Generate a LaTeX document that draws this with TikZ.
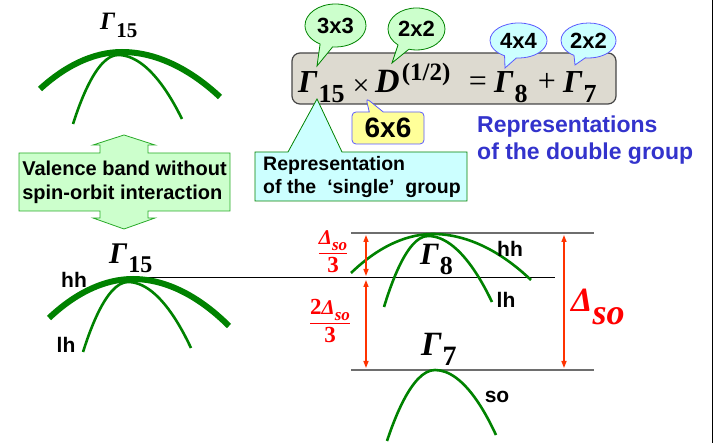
\documentclass[tikz,border=0pt]{standalone}
\usepackage{fontspec}
\setmainfont{Liberation Sans}
\newfontfamily\tmsfont{Liberation Serif}
\usetikzlibrary{arrows.meta,shapes.callouts,shapes.geometric,backgrounds}

\definecolor{bandgreen}{RGB}{0,130,0}
\definecolor{boxgreen}{RGB}{40,170,40}
\definecolor{palegreen}{RGB}{204,255,204}
\definecolor{palecyan}{RGB}{204,255,255}
\definecolor{paleyel}{RGB}{255,255,153}
\definecolor{bubblue}{RGB}{90,90,255}
\definecolor{grpblue}{RGB}{51,51,204}
\definecolor{eqgray}{RGB}{221,218,208}
\definecolor{eqedge}{RGB}{70,70,70}
\definecolor{levelgray}{RGB}{110,110,110}
\definecolor{sored}{RGB}{255,0,0}
\definecolor{arrred}{RGB}{255,51,0}

\newcommand{\fsz}[1]{\fontsize{#1}{#1}\selectfont}
\newcommand{\Gam}[3]{{\tmsfont\bfseries\itshape\fsz{#1}Γ}\kern1pt{\tmsfont\bfseries\fsz{#2}\raisebox{-0.35em}{#3}}}
\newcommand{\Dso}[2]{{\tmsfont\bfseries\itshape\fsz{#1}Δ{\fsz{#2}\raisebox{-0.35em}{so}}}}

\begin{document}
\begin{tikzpicture}[x=1pt, y=-1pt,
    bandthin/.style={draw=bandgreen, line width=2.6pt},
    bandthick/.style={draw=bandgreen, line width=6pt},
    level/.style={draw=levelgray, line width=1.4pt},
    sym/.style={inner sep=0pt, anchor=base west},
    tag/.style={inner sep=0pt, font=\fsz{21}\bfseries},
    gbub/.style={ellipse callout, draw=bandgreen, fill=palegreen, line width=0.8pt, inner sep=0pt, callout pointer arc=25, font=\fsz{22}\bfseries},
    bbub/.style={gbub, draw=bubblue, fill=palecyan},
    redarr/.style={draw=arrred, line width=1.4pt, {Triangle[length=7pt,width=5pt]}-{Triangle[length=7pt,width=5pt]}},
]
\useasboundingbox (0,0) rectangle (715,443);

% slide edge
\draw[line width=1pt] (712,0) -- (712,443);

% without spin-orbit
\node[sym] (g15a) at (100,30) {\Gam{25}{21}{15}};
\draw[bandthick] (40,89) parabola bend (122,52) (220,97);
\draw[bandthin] (73,124) parabola bend (118,55) (182,119);

\draw[fill=palegreen, draw=boxgreen, line width=0.8pt] (124,135) -- (155,145) -- (148,145) -- (148,153) -- (230,153) -- (230,211) -- (148,211) -- (148,218) -- (155,218) -- (124,229) -- (93,218) -- (100,218) -- (100,211) -- (19,211) -- (19,153) -- (100,153) -- (100,145) -- (93,145) -- cycle;
\node[inner sep=0pt, align=left, font=\fsz{20}\bfseries] (valence) at (124.5,182) {Valence band without\\[4pt]spin-orbit interaction};

% the product of representations
\node[sym] (g15eq) at (298,93) {\Gam{32}{26}{15}};
\node[inner sep=0pt, font=\tmsfont\fsz{30}] (times) at (361,87) {×};
\node[sym] (dhalf) at (375,93) {{\tmsfont\bfseries\itshape\fsz{34}D}\kern2pt{\tmsfont\bfseries\fsz{25}\raisebox{0.5em}{(1/2)}}};
\node[inner sep=0pt, font=\tmsfont\fsz{32}] (equal) at (478,84) {=};
\node[sym] (g8eq) at (494,93) {\Gam{32}{26}{8}};
\node[inner sep=0pt, font=\tmsfont\fsz{32}] (plus) at (547,82) {+};
\node[sym] (g7eq) at (563,93) {\Gam{32}{26}{7}};

\begin{scope}[on background layer]
  \node[draw=eqedge, fill=eqgray, line width=1.2pt, rounded corners=8pt, minimum width=324pt, minimum height=51pt, inner sep=0pt] (eqbox) at (454,78.5) {};
  \node[gbub, minimum width=61pt, minimum height=43pt, callout absolute pointer={(317,66)}] (dim3) at (335.5,25.5) {3x3};
  \node[gbub, minimum width=57pt, minimum height=42pt, callout absolute pointer={(392,63)}] (dim2a) at (416.5,29) {2x2};
  \node[bbub, minimum width=57pt, minimum height=35pt, callout absolute pointer={(505,68)}] (dim4) at (518.5,40.5) {4x4};
  \node[bbub, minimum width=55pt, minimum height=35pt, callout absolute pointer={(575,65)}] (dim2b) at (588.5,40.5) {2x2};
  \node[rectangle callout, draw=bubblue, fill=paleyel, line width=0.8pt, rounded corners=4pt, minimum width=72pt, minimum height=32pt, inner sep=0pt, callout pointer width=14pt, callout absolute pointer={(366,98)}, font=\fsz{28}\bfseries] (dim6) at (388,128) {6x6};
  \draw[fill=palecyan, draw=bandgreen, line width=0.8pt] (255,152) -- (288,152) -- (317,99) -- (342,152) -- (467,152) -- (467,201) -- (255,201) -- cycle;
\end{scope}
\node[anchor=west, align=left, font=\fsz{19.5}\bfseries, inner sep=0pt] (single) at (263,177) {Representation\\[3pt]of the\hspace{11pt}‘single’\hspace{11pt}group};
\node[anchor=north west, align=left, text=grpblue, font=\fsz{23}\bfseries, inner sep=0pt] (double) at (477,116) {Representations\\[4pt]of the double group};

% levels
\draw[line width=1pt] (133,278) -- (555,278);
\draw[level] (351,233) -- (594,233);
\draw[level] (351,370) -- (594,370);

% Gamma 15
\node[sym] (g15b) at (109,264) {\Gam{30}{24}{15}};
\draw[bandthick] (49,318) parabola bend (133,279) (229,326);
\draw[bandthin] (83,352) parabola bend (128,282) (191,348);
\node[tag] (hhL) at (74,280) {hh};
\node[tag] (lhL) at (66,345) {lh};

% Gamma 8 and Gamma 7
\draw[bandthin] (351,273) parabola bend (433,234) (531,280);
\draw[bandthin] (384,307) parabola bend (428,236) (492,302);
\node[sym] (g8) at (420,265) {\Gam{31}{26}{8}};
\node[tag] (hhR) at (510,249) {hh};
\node[tag] (lhR) at (506,300) {lh};
\node[sym] (g7) at (421,356) {\Gam{34}{28}{7}};
\draw[bandthin] (387,441) parabola bend (435,370) (496,435);
\node[tag] (soR) at (497,397) {so};

% splitting
\draw[redarr] (366,235) -- (366,276);
\draw[redarr] (366,280) -- (366,368);
\draw[redarr] (564,235) -- (564,368);
\node[text=sored, inner sep=0pt, font=\fsz{20}] (fracA) at (333,252) {$\displaystyle\frac{\hbox{\Dso{21}{17}}}{\hbox{\tmsfont\bfseries\fsz{23}3}}$};
\node[text=sored, inner sep=0pt, font=\fsz{20}] (fracB) at (330,321) {$\displaystyle\frac{\hbox{\tmsfont\bfseries\fsz{23}2\Dso{21}{17}}}{\hbox{\tmsfont\bfseries\fsz{23}3}}$};
\node[sym, text=sored] (dso) at (571,312) {\Dso{34}{36}};
\end{tikzpicture}
\end{document}
